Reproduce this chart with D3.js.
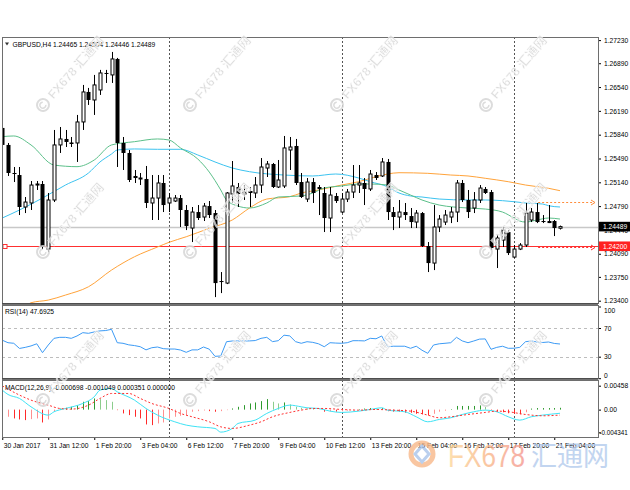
<!DOCTYPE html>
<html><head><meta charset="utf-8">
<script src="https://cdn.jsdelivr.net/npm/d3@7"></script>
<style>
body{margin:0;background:#fff;}
svg{display:block;font-family:"Liberation Sans",Arial,"Noto Sans CJK SC",sans-serif;}
</style>
</head><body>
<svg id="c" width="630" height="490"></svg>
<script>
// ---------------- DATA ----------------
const symbolTitle = "GBPUSD,H4";
const lastQuote = ["1.24465", "1.24504", "1.24446", "1.24489"];
const firstBar = 1; // bar index of the first value below (H4 bars counted from 30 Jan 2017 00:00)

const opens = [1.25939,1.25689,1.25277,1.25247,1.24777,1.24836,1.25100,1.25115,1.24159,1.24880,
1.25689,1.25777,1.25725,1.25718,1.26027,1.26468,1.26350,1.26497,1.26747,1.26718,
1.26953,1.25718,1.25571,1.25233,1.25189,1.25189,1.24836,1.24909,1.25130,1.24836,
1.24865,1.24909,1.24733,1.24468,1.24703,1.24630,1.24791,1.24688,1.23689,1.23659,
1.24968,1.25071,1.24968,1.25012,1.24983,1.25100,1.25350,1.25409,1.25071,1.25086,
1.25615,1.25674,1.25144,1.24894,1.25144,1.25071,1.24983,1.24615,1.24939,1.24703,
1.24894,1.24997,1.25100,1.25130,1.25042,1.25247,1.25233,1.25439,1.24703,1.24630,
1.24703,1.24644,1.24556,1.24688,1.24203,1.23953,1.24483,1.24556,1.24630,1.24703,
1.25130,1.24880,1.24762,1.24880,1.25042,1.24997,1.24159,1.24291,1.24409,1.24041,
1.24159,1.24218,1.24586,1.24703,1.24571,1.24571,1.24571,1.24465];
const highs = [1.25968,1.25718,1.25365,1.25365,1.24924,1.25159,1.25159,1.25159,1.24983,1.25909,
1.25953,1.25909,1.25806,1.26130,1.26571,1.26527,1.26718,1.26792,1.26792,1.27056,
1.26968,1.25806,1.25615,1.25321,1.25277,1.25380,1.25247,1.25247,1.25247,1.24983,
1.24953,1.24953,1.24806,1.24777,1.24806,1.24836,1.24865,1.24733,1.23821,1.24997,
1.25453,1.25130,1.25100,1.25071,1.25218,1.25497,1.25453,1.25424,1.25468,1.25821,
1.25806,1.25777,1.25277,1.25203,1.25203,1.25100,1.25071,1.25071,1.24983,1.24983,
1.25042,1.25394,1.25394,1.25203,1.25321,1.25291,1.25497,1.25483,1.24777,1.24880,
1.24836,1.24762,1.24733,1.24703,1.24262,1.24806,1.24659,1.24733,1.24777,1.25174,
1.25174,1.25027,1.24997,1.25100,1.25071,1.25027,1.24365,1.24483,1.24438,1.24218,
1.24247,1.24836,1.24762,1.24836,1.24659,1.24806,1.24586,1.24504];
const lows = [1.25645,1.25233,1.25144,1.24659,1.24688,1.24733,1.25027,1.24159,1.24115,1.24850,
1.25571,1.25659,1.25659,1.25439,1.25909,1.26277,1.26130,1.26424,1.26600,1.26600,
1.25365,1.25321,1.25144,1.25130,1.25100,1.24762,1.24586,1.24586,1.24703,1.24703,
1.24850,1.24483,1.24438,1.24262,1.24586,1.24571,1.24615,1.23453,1.23512,1.23644,
1.24836,1.24777,1.24880,1.24777,1.24909,1.24983,1.25218,1.25056,1.25056,1.25056,
1.25321,1.25100,1.24909,1.24850,1.24836,1.24659,1.24409,1.24409,1.24836,1.24688,
1.24850,1.24909,1.24983,1.24806,1.25012,1.25174,1.25218,1.24586,1.24438,1.24468,
1.24586,1.24468,1.24468,1.24189,1.23821,1.23850,1.24409,1.24512,1.24541,1.24556,
1.24850,1.24615,1.24688,1.24836,1.24968,1.24144,1.23880,1.24189,1.24071,1.24027,
1.24144,1.24189,1.24556,1.24541,1.24541,1.24541,1.24350,1.24446];
const closes = [1.25689,1.25277,1.25262,1.24777,1.24850,1.25100,1.25115,1.24189,1.24880,1.25689,
1.25777,1.25733,1.25703,1.26027,1.26468,1.26350,1.26571,1.26747,1.26733,1.26953,
1.25718,1.25571,1.25174,1.25203,1.25203,1.24836,1.24909,1.25130,1.24806,1.24909,
1.24909,1.24733,1.24497,1.24703,1.24615,1.24791,1.24659,1.23659,1.23674,1.24983,
1.25086,1.24968,1.24997,1.24983,1.25100,1.25365,1.25409,1.25071,1.25174,1.25645,
1.25659,1.25130,1.24924,1.25144,1.24983,1.25042,1.24615,1.24953,1.24865,1.24894,
1.24997,1.25100,1.25130,1.25042,1.25262,1.25203,1.25439,1.24703,1.24630,1.24703,
1.24659,1.24556,1.24688,1.24203,1.23953,1.24483,1.24600,1.24659,1.24703,1.25130,
1.24880,1.24703,1.24880,1.25056,1.24983,1.24174,1.24321,1.24438,1.24100,1.24159,
1.24218,1.24688,1.24703,1.24556,1.24556,1.24541,1.24468,1.24489];

// moving averages (sampled along the drawn lines: bar index, price)
const maGreenBars = [1,3,6,10,14,17,20,24,28,30,32,35,37,39,40,42,44,47,49,53,55,57,60,63,65,68,70,72,74,77,82,85,88,90,91,92,94,96,98];
const maGreenVals = [1.25811,1.25821,1.25689,1.25394,1.25370,1.25468,1.25689,1.25737,1.25777,1.25762,1.25645,1.25483,1.25291,1.25027,1.24880,1.24791,1.24762,1.24836,1.24924,1.24939,1.24983,1.25056,1.25086,1.25115,1.25115,1.25100,1.25027,1.24953,1.24880,1.24806,1.24762,1.24747,1.24703,1.24615,1.24571,1.24556,1.24586,1.24615,1.24600];
const maCyanBars = [1,4,8,12,16,18,20,21,24,28,32,35,38,41,44,50,55,59,63,65,68,70,72,74,77,82,85,88,90,92,95,96,98];
const maCyanVals = [1.24615,1.24733,1.24909,1.25100,1.25277,1.25439,1.25556,1.25615,1.25630,1.25625,1.25625,1.25542,1.25439,1.25350,1.25296,1.25247,1.25233,1.25262,1.25203,1.25149,1.25075,1.24983,1.24939,1.24924,1.24894,1.24880,1.24880,1.24870,1.24855,1.24836,1.24821,1.24796,1.24777];
const maOrangeBars = [4,6,9,12,16,20,24,28,30,33,37,41,44,47,51,53,56,60,63,66,68,70,75,79,82,85,89,92,96,98];
const maOrangeVals = [1.23233,1.23370,1.23409,1.23483,1.23605,1.23850,1.24046,1.24189,1.24258,1.24340,1.24464,1.24586,1.24762,1.24894,1.24928,1.24983,1.25027,1.25100,1.25149,1.25223,1.25262,1.25281,1.25272,1.25247,1.25233,1.25199,1.25149,1.25100,1.25052,1.25017];

// RSI(14) per bar
const rsiVals = [53,49.5,48.7,41.5,43,45,48,35.6,46.3,55.6,57,57,55.6,58.9,63.5,62.6,64.5,66,66.5,68.2,
49.5,48.7,46.5,45.5,43.9,39.5,42.5,43.5,41.2,40.7,40.7,39.3,36.1,39.5,39.5,43.5,40.5,30.5,31,50.9,
51.9,51.9,51.9,52,52.5,55.6,57,51,52.3,60,59,51,48.7,50.9,50,48,43.9,49.5,49,48.7,
49.5,52.3,52.3,52,55.6,55,58.9,43.9,44.6,44.6,44.6,41.7,44.6,39,34.7,46.3,48,48.7,49.5,57,
52,49.5,51.9,54.5,54.8,40.3,43,44.6,41.7,41.8,43,50.9,51.9,50.5,49.8,50.5,48.5,47.6925];

// MACD(12,26,9) histogram per bar
const macdHist = [-0.00156,-0.00137,-0.00169,-0.00188,-0.00201,-0.00182,-0.00169,-0.00246,-0.00188,-0.0003,
0.0002,0.00035,0.00054,0.00086,0.0015,0.00163,0.00214,0.00201,0.00182,0.0015,
-0.0001,-0.00073,-0.00105,-0.00137,-0.00169,-0.00284,-0.00297,-0.00265,-0.00246,-0.00169,
-0.00137,-0.00118,-0.00105,-0.00041,-0.00029,-0.00016,-0.00029,-0.00041,-0.00029,-0.0001,
0.00022,0.00054,0.00086,0.00118,0.00137,0.00163,0.00201,0.0015,0.00118,0.00137,
0.00099,0.00054,0.00035,0.00022,0.00016,0.00003,-0.0004,-0.0003,-0.0004,-0.0003,
-0.0002,-0.0001,0.0001,0.0002,0.0003,0.0002,0.0003,-0.0003,-0.0004,-0.0004,
-0.0006,-0.0006,-0.0008,-0.0009,-0.0011,-0.0008,-0.0004,-0.0002,0.0001,0.0007,
0.0007,0.0007,0.0007,0.0008,0.0005,-0.0001,-0.0004,-0.0005,-0.0007,-0.0008,
-0.0009,-0.0005,0.0002,0.0003,0.0003,0.0003,0.0003,0.000351];
// MACD main line (cyan) and signal (red dotted), sampled: bar index, value
const macdBars = [1,2,4,6,9,10,12,15,17,18,20,21,24,26,28,31,33,35,38,39,41,42,45,47,49,51,53,54,56,58,60,63,65,67,68,71,73,75,77,79,81,83,85,87,89,91,93,95,98];
const macdVals = [0.00373,0.0029,0.00214,0.00054,-0.00105,-0.00041,0.00022,0.00118,0.00246,0.00373,0.00405,0.00341,0.00182,0.00022,-0.00105,-0.00233,-0.00297,-0.00329,-0.0036,-0.00431,-0.0036,-0.00265,-0.00201,-0.00073,0.00022,0.00086,0.00054,0.00035,0.00022,-0.00029,-0.00054,-0.00029,0.00003,0.00035,-0.0001,-0.00041,-0.00137,-0.00233,-0.00188,-0.00156,-0.00093,-0.00041,-0.0001,-0.00041,-0.00137,-0.00201,-0.00137,-0.00105,-0.000698];
const signalBars = [1,4,6,9,11,13,16,18,20,23,25,27,30,32,34,37,39,41,44,46,48,51,53,55,57,60,63,66,69,72,75,77,79,82,85,87,89,92,95,98];
const signalVals = [0.00455,0.00278,0.00182,0.00086,0.00022,0.0001,0.00086,0.00214,0.00309,0.00309,0.00214,0.00118,0.00022,-0.00073,-0.00137,-0.00233,-0.00329,-0.0036,-0.00297,-0.00233,-0.00137,-0.00054,-0.0001,0.00022,0.00022,0.00003,-0.0001,0.00003,-0.0001,-0.00029,-0.00105,-0.00156,-0.00137,-0.00093,-0.00054,-0.00029,-0.00041,-0.00093,-0.00118,-0.001049];

// axis ticks
const priceTicks = [1.27230,1.26890,1.26540,1.26190,1.25840,1.25490,1.25140,1.24790,1.24440,1.24090,1.23750,1.23400];
const rsiTicks = [100,70,30,0];
const rsiLevels = [70,30];
const macdTicks = [0.00458,0,-0.004341];
const macdTickLabels = ["0.00458","0.00","-0.004341"];
const timeTickBars = [1,9,17,25,33,41,49,57,65,73,81,89,97];
const timeTickLabels = ["30 Jan 2017","31 Jan 12:00","1 Feb 20:00","3 Feb 04:00","6 Feb 12:00","7 Feb 20:00","9 Feb 04:00","10 Feb 12:00","13 Feb 20:00","15 Feb 04:00","16 Feb 12:00","17 Feb 20:00","21 Feb 04:00"];
const weekSeparatorBars = [30,60,90];
const bidPrice = 1.24489;
const hLinePrice = 1.24200;
const arrowOrangePrice = 1.24855;
const arrowRedPrice = 1.24190;
const arrowStartBar = 94.2;

// ---------------- DRAW ----------------
const svg = d3.select("#c");
const L = 2, R = 598;
const main = {top:37, bottom:303}, rsiP = {top:305, bottom:378}, macdP = {top:380, bottom:437};
const FS = 6.7;

const bars = opens.map((o,k)=>({i:firstBar+k,o,h:highs[k],l:lows[k],c:closes[k]}));
const x = d3.scaleLinear().domain([0,98]).range([-3.5,560]);
const y = d3.scaleLinear().domain([1.23400,1.27230]).range([300.7,40.1]);
const yr = d3.scaleLinear().domain([0,100]).range([378.2,306.5]);
const ym = d3.scaleLinear().domain([-0.004341,0.00458]).range([432.3,385.7]);

const defs = svg.append("defs");
[["clipMain",main],["clipRsi",rsiP],["clipMacd",macdP]].forEach(([id,p])=>{
  defs.append("clipPath").attr("id",id).append("rect").attr("x",L).attr("y",p.top).attr("width",R-L).attr("height",p.bottom-p.top);
});
const grad = defs.append("linearGradient").attr("id","gOr").attr("x1","0").attr("x2","1");
grad.append("stop").attr("offset","0").attr("stop-color","#fdd79b");
grad.append("stop").attr("offset","0.5").attr("stop-color","#f9b98c");
grad.append("stop").attr("offset","1").attr("stop-color","#f59890");

svg.append("rect").attr("width",630).attr("height",490).attr("fill","#fff");

// week separators
const sep = svg.append("g").attr("stroke","#555").attr("stroke-width",1).attr("stroke-dasharray","2,2");
weekSeparatorBars.forEach(b=>{
  const xx = Math.round(x(b))+0.5;
  [main,rsiP,macdP].forEach(p=>sep.append("line").attr("x1",xx).attr("x2",xx).attr("y1",p.top).attr("y2",p.bottom));
});

// ----- main panel -----
const gm = svg.append("g").attr("clip-path","url(#clipMain)");
gm.append("line").attr("x1",L).attr("x2",R).attr("y1",Math.round(y(bidPrice))+0.5).attr("y2",Math.round(y(bidPrice))+0.5)
  .attr("stroke","#c8c8c8").attr("stroke-width",1.5);
gm.append("line").attr("x1",L).attr("x2",R).attr("y1",Math.round(y(hLinePrice))+0.5).attr("y2",Math.round(y(hLinePrice))+0.5)
  .attr("stroke","#ff3030").attr("stroke-width",1);
gm.append("rect").attr("x",L+1).attr("y",Math.round(y(hLinePrice))-1.5).attr("width",4).attr("height",4)
  .attr("fill","#fff").attr("stroke","#ff3030").attr("stroke-width",1);

const maLine = (bs,vs,color)=>{
  const pts = bs.map((b,k)=>[x(b),y(vs[k])]);
  gm.append("path").attr("d",d3.line().curve(d3.curveMonotoneX)(pts)).attr("fill","none").attr("stroke",color).attr("stroke-width",1);
};
maLine(maOrangeBars,maOrangeVals,"#ffa33a");
maLine(maCyanBars,maCyanVals,"#3cc3f0");
maLine(maGreenBars,maGreenVals,"#5cc08a");

// arrows
[[arrowOrangePrice,"#ff8c3a"],[arrowRedPrice,"#ff3030"]].forEach(([p,col])=>{
  const yy = Math.round(y(p))+0.5, x1 = x(arrowStartBar), x2 = 595;
  svg.append("line").attr("x1",x1).attr("x2",x2-3).attr("y1",yy).attr("y2",yy).attr("stroke",col).attr("stroke-dasharray","2,2");
  svg.append("path").attr("d",`M${x2-4},${yy-2.5}L${x2},${yy}L${x2-4},${yy+2.5}`).attr("fill","none").attr("stroke",col);
});

// candles
const cg = gm.append("g");
bars.forEach(d=>{
  const cx = Math.round(x(d.i))+0.5;
  cg.append("line").attr("x1",cx).attr("x2",cx).attr("y1",y(d.h)).attr("y2",y(d.l)).attr("stroke","#000").attr("stroke-width",1);
  const top = y(Math.max(d.o,d.c)), bot = y(Math.min(d.o,d.c));
  const hgt = Math.max(1,bot-top);
  if (d.c < d.o) {
    cg.append("rect").attr("x",cx-2).attr("y",top).attr("width",4).attr("height",hgt).attr("fill","#000");
  } else {
    cg.append("rect").attr("x",cx-1.5).attr("y",top).attr("width",3).attr("height",hgt).attr("fill","#fff").attr("stroke","#000").attr("stroke-width",1);
  }
});

// title
svg.append("path").attr("d","M5,42.5L9,42.5L7,45.5Z").attr("fill","#333");
svg.append("text").attr("x",12.5).attr("y",46.5).attr("font-size",FS).attr("fill","#000")
  .text(symbolTitle+"  "+lastQuote.join(" "));

// price axis
const pa = svg.append("g").attr("transform",`translate(${R},0)`)
  .call(d3.axisRight(y).tickValues(priceTicks).tickFormat(d3.format(".5f")).tickSize(3).tickPadding(3));
pa.select(".domain").remove();
pa.selectAll("text").attr("font-size",FS).attr("font-family","Liberation Sans, Arial").attr("fill","#000");
pa.selectAll("line").attr("stroke","#000");
// value boxes
[[bidPrice,"#000",d3.format(".5f")(bidPrice)],[hLinePrice,"#ff2020",d3.format(".5f")(hLinePrice)]].forEach(([p,col,t])=>{
  const yy = y(p);
  svg.append("rect").attr("x",R+1).attr("y",yy-4.8).attr("width",31).attr("height",9.6).attr("fill",col);
  svg.append("text").attr("x",R+5).attr("y",yy+2.4).attr("font-size",FS).attr("fill","#fff").text(t);
});

// ----- RSI panel -----
const gr = svg.append("g").attr("clip-path","url(#clipRsi)");
rsiLevels.forEach(v=>gr.append("line").attr("x1",L).attr("x2",R).attr("y1",Math.round(yr(v))+0.5).attr("y2",Math.round(yr(v))+0.5)
  .attr("stroke","#bdbdbd").attr("stroke-dasharray","3,3"));
gr.append("path").attr("d",d3.line()(rsiVals.map((v,k)=>[x(firstBar+k),yr(v)]))).attr("fill","none").attr("stroke","#3d9bf5").attr("stroke-width",1);
svg.append("text").attr("x",5).attr("y",313.5).attr("font-size",FS).text("RSI(14) "+d3.format(".4f")(rsiVals[rsiVals.length-1]));
const ra = svg.append("g").attr("transform",`translate(${R},0)`)
  .call(d3.axisRight(yr).tickValues(rsiTicks).tickFormat(d3.format("d")).tickSize(3).tickPadding(3));
ra.select(".domain").remove();
ra.selectAll("text").attr("font-size",FS).attr("font-family","Liberation Sans, Arial").attr("fill","#000")
  .attr("dy",d=>d===100?"0.9em":d===0?"-0.1em":"0.32em");
ra.selectAll("line").attr("stroke","#000");

// ----- MACD panel -----
const gmc = svg.append("g").attr("clip-path","url(#clipMacd)");
macdHist.forEach((v,k)=>{
  const prev = k>0?macdHist[k-1]:v;
  let col;
  if (v>=0) col = v>=prev ? "#2f9a2f" : "#8ccc8c";
  else col = v<=prev ? "#ff2a2a" : "#ff8f8f";
  const cx = Math.round(x(firstBar+k))+0.5;
  gmc.append("line").attr("x1",cx).attr("x2",cx).attr("y1",ym(0)).attr("y2",ym(v)).attr("stroke",col).attr("stroke-width",1);
});
gmc.append("path").attr("d",d3.line().curve(d3.curveMonotoneX)(macdBars.map((b,k)=>[x(b),ym(macdVals[k])])))
  .attr("fill","none").attr("stroke","#3fe3f5").attr("stroke-width",1);
gmc.append("path").attr("d",d3.line().curve(d3.curveMonotoneX)(signalBars.map((b,k)=>[x(b),ym(signalVals[k])])))
  .attr("fill","none").attr("stroke","#ff3030").attr("stroke-width",1).attr("stroke-dasharray","2,2");
svg.append("text").attr("x",5).attr("y",389.5).attr("font-size",FS)
  .text("MACD(12,26,9) -0.000698 -0.001049 0.000351 0.000000");
const ma = svg.append("g").attr("transform",`translate(${R},0)`)
  .call(d3.axisRight(ym).tickValues(macdTicks).tickFormat((d,k)=>macdTickLabels[k]).tickSize(3).tickPadding(3));
ma.select(".domain").remove();
ma.selectAll("text").attr("font-size",FS).attr("font-family","Liberation Sans, Arial").attr("fill","#000")
  .attr("x",d=>d<0?1.5:6).attr("font-size",d=>d<0?6.3:FS);
ma.selectAll("line").attr("stroke","#000");

// ----- time axis -----
const ta = svg.append("g").attr("transform",`translate(0,${macdP.bottom})`)
  .call(d3.axisBottom(x).tickValues(timeTickBars).tickFormat((d,k)=>timeTickLabels[k]).tickSize(3).tickPadding(2));
ta.select(".domain").remove();
ta.selectAll("line").attr("stroke","#000");
ta.selectAll("text").attr("font-size",FS).attr("font-family","Liberation Sans, Arial").attr("fill","#000")
  .attr("text-anchor","start").attr("dx","1").attr("dy","0.9em");

// panel frames
[main,rsiP,macdP].forEach(p=>{
  svg.append("rect").attr("x",L+0.5).attr("y",p.top+0.5).attr("width",R-L).attr("height",p.bottom-p.top)
    .attr("fill","none").attr("stroke","#6e6e6e").attr("stroke-width",1);
});
svg.append("line").attr("x1",L).attr("x2",R).attr("y1",304).attr("y2",304).attr("stroke","#444").attr("stroke-width",1.5);
svg.append("line").attr("x1",L).attr("x2",R).attr("y1",379).attr("y2",379).attr("stroke","#444").attr("stroke-width",1.5);

// ----- watermarks -----
const wmCols = [43,190,337,486], wmRows = [105,252,400];
const wm = svg.append("g").attr("pointer-events","none").attr("opacity",0.85);
wmRows.forEach(ry=>wmCols.forEach(cx=>{
  const g = wm.append("g").attr("transform",`translate(${cx},${ry}) rotate(-49)`);
  g.append("circle").attr("r",6).attr("fill","none").attr("stroke","#d6d6d6").attr("stroke-width",2);
  g.append("path").attr("d","M2,-2A3,3 0 1 0 2,2").attr("fill","none").attr("stroke","#d6d6d6").attr("stroke-width",1.5);
  g.append("text").attr("x",11).attr("y",4.5).attr("font-size",12.5).attr("font-weight","bold")
    .attr("fill","#d6d6d6").attr("stroke","#fff").attr("stroke-width",0.4).text("FX678 汇通网");
}));

// bottom-right logo
const lg = svg.append("g").attr("opacity",0.8);
lg.append("circle").attr("cx",422).attr("cy",454).attr("r",11).attr("fill","none").attr("stroke","#f8b98a").attr("stroke-width",5);
lg.append("path").attr("d","M422,446L429,454L422,462L415,454Z").attr("fill","none").attr("stroke","#a9c4ea").attr("stroke-width",3);
lg.append("text").attr("x",448).attr("y",467).attr("font-size",32).attr("textLength",77).attr("lengthAdjust","spacingAndGlyphs")
  .attr("fill","url(#gOr)").text("FX678");
lg.append("text").attr("x",531).attr("y",466).attr("font-size",27).attr("textLength",78).attr("lengthAdjust","spacingAndGlyphs")
  .attr("font-family","Noto Sans CJK SC").attr("fill","#b3cbed").text("汇通网");
</script>
</body></html>
